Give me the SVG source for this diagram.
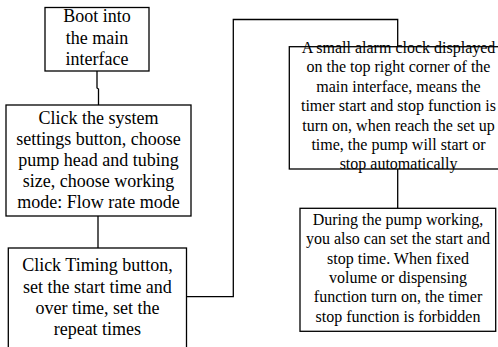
<svg xmlns="http://www.w3.org/2000/svg" width="498" height="347" viewBox="0 0 498 347">
<style>
.box{fill:#fff;stroke:#000;stroke-width:1.3}
.c{fill:none;stroke:#000;stroke-width:1.3}
.t{font-family:"Liberation Serif","Times New Roman",serif;fill:#000;text-anchor:middle}
.l{font-size:18px}
.s{font-size:16px}
</style>
<g id="connectors">
<polyline class="c" points="97,71 97,88 98.5,89 98.5,105"/>
<line class="c" x1="98" y1="216" x2="98" y2="248"/>
<polyline class="c" points="186.5,296.7 233.3,296.7 233.3,19.5 397.7,19.5 397.7,46.7"/>
<line class="c" x1="397.7" y1="169" x2="397.7" y2="208.3"/>
</g>
<g id="n1">
<rect class="box" x="45" y="7.5" width="104" height="63.5"/>
<text class="t l" x="97"><tspan x="97" y="22">Boot into</tspan><tspan x="97" y="43.5">the main</tspan><tspan x="97" y="65">interface</tspan></text>
</g>
<g id="n2">
<rect class="box" x="6" y="105" width="185" height="111"/>
<text class="t l"><tspan x="98.5" y="124">Click the system</tspan><tspan x="98.5" y="145">settings button, choose</tspan><tspan x="98.5" y="166">pump head and tubing</tspan><tspan x="98.5" y="187">size, choose working</tspan><tspan x="98.5" y="208">mode: Flow rate mode</tspan></text>
</g>
<g id="n3">
<rect class="box" x="8.3" y="248" width="178.2" height="110"/>
<text class="t l"><tspan x="97.4" y="271">Click Timing button,</tspan><tspan x="97.4" y="292.5">set the start time and</tspan><tspan x="97.4" y="314">over time, set the</tspan><tspan x="97.4" y="335">repeat times</tspan></text>
</g>
<g id="n4">
<rect class="box" x="289.3" y="46.7" width="212" height="122.3"/>
<text class="t s"><tspan x="398.5" y="53">A small alarm clock displayed</tspan><tspan x="398.5" y="72.4">on the top right corner of the</tspan><tspan x="398.5" y="91.8">main interface, means the</tspan><tspan x="398.5" y="111.2">timer start and stop function is</tspan><tspan x="398.5" y="130.6">turn on, when reach the set up</tspan><tspan x="398.5" y="150">time, the pump will start or</tspan><tspan x="398.5" y="169.4">stop automatically</tspan></text>
</g>
<g id="n5">
<rect class="box" x="300" y="208.3" width="195.7" height="123"/>
<text class="t s"><tspan x="398" y="225">During the pump working,</tspan><tspan x="398" y="244.3">you also can set the start and</tspan><tspan x="398" y="263.6">stop time. When fixed</tspan><tspan x="398" y="282.9">volume or dispensing</tspan><tspan x="398" y="302.2">function turn on, the timer</tspan><tspan x="398" y="321.5">stop function is forbidden</tspan></text>
</g>
</svg>
